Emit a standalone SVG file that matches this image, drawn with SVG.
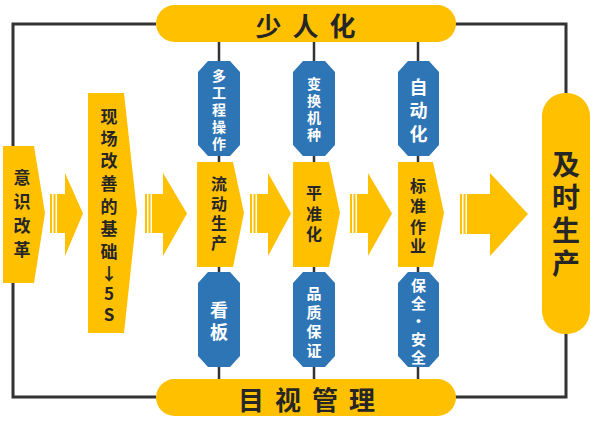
<svg xmlns="http://www.w3.org/2000/svg" width="593" height="422" viewBox="0 0 593 422">
<style>
.y{fill:#FFC000}
.b{fill:#2E75B6}
.ln{fill:none;stroke:#333;stroke-width:3}
.cn{fill:none;stroke:#333;stroke-width:2.5}
text{font-family:"Noto Sans CJK SC","Noto Sans",sans-serif;font-weight:bold;text-anchor:middle;dominant-baseline:central}
.dk{fill:#262626}
.wt{fill:#fff}
.bar{font-size:26px;letter-spacing:11px}
</style>
<rect width="593" height="422" fill="#fff"/>
<g id="connectors">
<path class="ln" d="M156 24H13V397H156"/>
<path class="ln" d="M455 24H566V397H455"/>
<path class="cn" d="M219 42V379M314 42V379M418 42V379"/>
</g>
<g id="arrows" class="y">
<path d="M50 194h2v39h-2zM53.5 194h2v39h-2zM57 194H65V173L83 213.5L65 256V233H57z"/>
<path d="M145 194h2v39h-2zM148.5 194h2v39h-2zM152 194H163V173L187 213.5L163 256V233H152z"/>
<path d="M250 194h2v39h-2zM253.5 194h2v39h-2zM257 194H268V173L291 213.5L268 256V233H257z"/>
<path d="M350 194h2v39h-2zM353.5 194h2v39h-2zM357 194H368V173L392 213.5L368 256V233H357z"/>
<path d="M460 194h2v40h-2zM463.5 194h2v40h-2zM467 194H490V173L528 214L490 256V234H467z"/>
</g>
<g id="top-bar">
<rect class="y" x="156" y="5" width="300" height="37" rx="18.5"/>
<text class="dk bar" x="311" y="24">少人化</text>
</g>
<g id="bottom-bar">
<rect class="y" x="156" y="379" width="300" height="37" rx="18.5"/>
<text class="dk bar" x="312" y="398">目视管理</text>
</g>
<g id="n-yishi">
<path class="y" d="M3 146H34L45 213L34 283H3z"/>
<text class="dk" font-size="17"><tspan x="22" y="176">意</tspan><tspan x="22" y="200">识</tspan><tspan x="22" y="224">改</tspan><tspan x="22" y="248">革</tspan></text>
</g>
<g id="n-xianchang">
<path class="y" d="M88 93H124L137 212L124 333H88z"/>
<text class="dk" font-size="17"><tspan x="109" y="115">现</tspan><tspan x="109" y="137">场</tspan><tspan x="109" y="159">改</tspan><tspan x="109" y="182">善</tspan><tspan x="109" y="205">的</tspan><tspan x="109" y="227">基</tspan><tspan x="109" y="250">础</tspan><tspan x="109" y="272">↓</tspan><tspan x="109" y="292">5</tspan><tspan x="109" y="313">S</tspan></text>
</g>
<g id="n-liudong">
<path class="y" d="M197 162H233L244 213L233 267H197z"/>
<text class="dk" font-size="16"><tspan x="219" y="183">流</tspan><tspan x="219" y="203">动</tspan><tspan x="219" y="222">生</tspan><tspan x="219" y="242">产</tspan></text>
</g>
<g id="n-pingzhun">
<path class="y" d="M293 162H329L340 213L329 267H293z"/>
<text class="dk" font-size="16"><tspan x="314" y="192">平</tspan><tspan x="314" y="213">准</tspan><tspan x="314" y="233">化</tspan></text>
</g>
<g id="n-biaozhun">
<path class="y" d="M398 162H433L444 213L433 267H398z"/>
<text class="dk" font-size="16"><tspan x="418" y="185">标</tspan><tspan x="418" y="205">准</tspan><tspan x="418" y="226">作</tspan><tspan x="418" y="245">业</tspan></text>
</g>
<g id="n-jishi">
<rect class="y" x="542" y="93" width="48" height="241" rx="23"/>
<text class="dk" font-size="28"><tspan x="566" y="163">及</tspan><tspan x="566" y="196">时</tspan><tspan x="566" y="229">生</tspan><tspan x="566" y="262">产</tspan></text>
</g>
<g id="n-duogongcheng">
<path class="b" d="M208 61H230L240 72V145L230 156H208L198 145V72z"/>
<text class="wt" font-size="14"><tspan x="219" y="75">多</tspan><tspan x="219" y="92">工</tspan><tspan x="219" y="109">程</tspan><tspan x="219" y="126">操</tspan><tspan x="219" y="143">作</tspan></text>
</g>
<g id="n-bianhuan">
<path class="b" d="M303 61H325L335 72V145L325 156H303L293 145V72z"/>
<text class="wt" font-size="14"><tspan x="314" y="83">变</tspan><tspan x="314" y="100">换</tspan><tspan x="314" y="117">机</tspan><tspan x="314" y="134">种</tspan></text>
</g>
<g id="n-zidong">
<path class="b" d="M408 61H429L439 72V145L429 156H408L398 145V72z"/>
<text class="wt" font-size="18"><tspan x="418.5" y="86">自</tspan><tspan x="418.5" y="109">动</tspan><tspan x="418.5" y="133">化</tspan></text>
</g>
<g id="n-kanban">
<path class="b" d="M208 272H230L240 283V356L230 367H208L198 356V283z"/>
<text class="wt" font-size="18"><tspan x="219" y="309">看</tspan><tspan x="219" y="331">板</tspan></text>
</g>
<g id="n-pinzhi">
<path class="b" d="M303 272H325L335 283V356L325 367H303L293 356V283z"/>
<text class="wt" font-size="15"><tspan x="314" y="292">品</tspan><tspan x="314" y="311">质</tspan><tspan x="314" y="330">保</tspan><tspan x="314" y="349">证</tspan></text>
</g>
<g id="n-baoquan">
<path class="b" d="M408 272H429L439 283V356L429 367H408L398 356V283z"/>
<text class="wt" font-size="15"><tspan x="418.5" y="284">保</tspan><tspan x="418.5" y="302">全</tspan><tspan x="418.5" y="320">·</tspan><tspan x="418.5" y="338">安</tspan><tspan x="418.5" y="356">全</tspan></text>
</g>
</svg>
